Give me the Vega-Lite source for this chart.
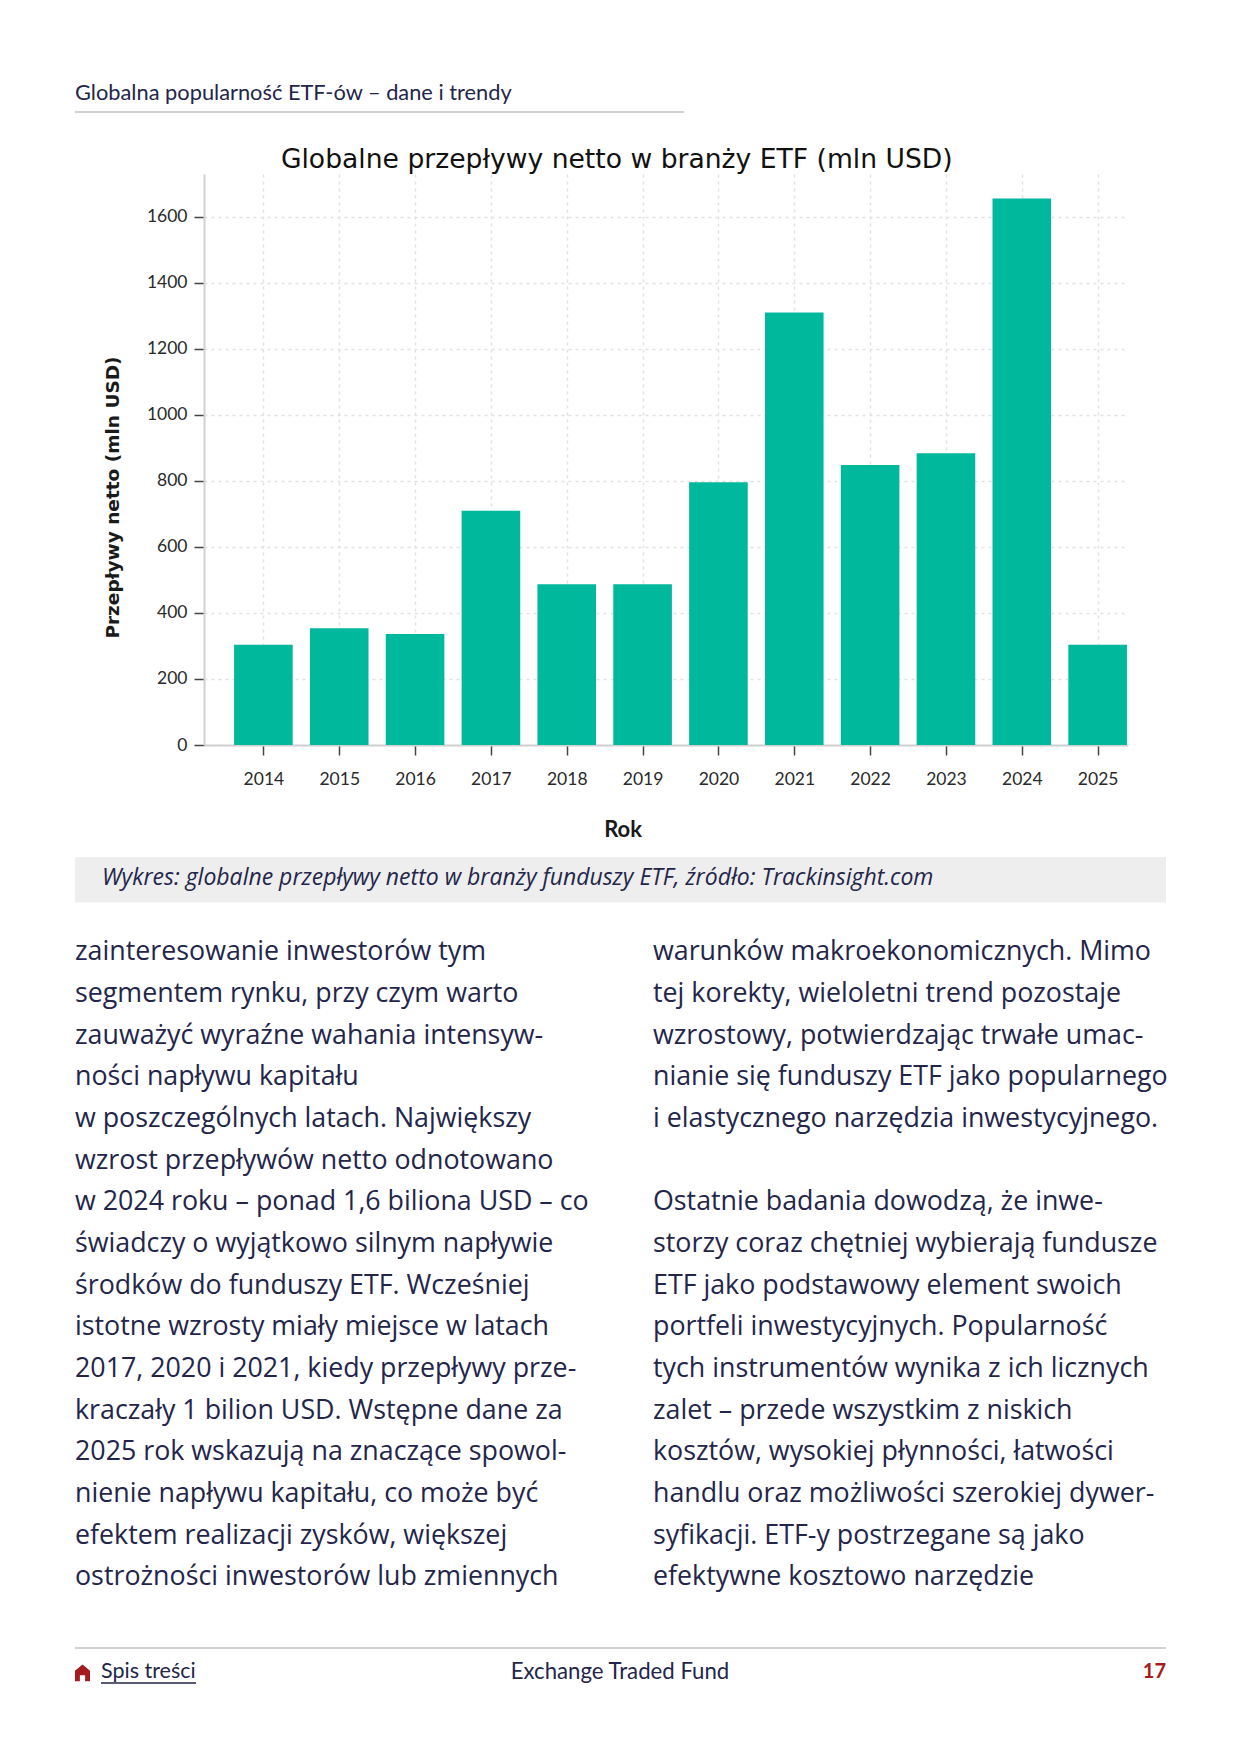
{
"$schema":"https://vega.github.io/schema/vega-lite/v6.json",
"padding":{"left":75,"top":70,"right":75,"bottom":59},
"background":"white",
"bounds":"flush",
"spacing":0,
"config":{"view":{"stroke":null},"concat":{"spacing":0}},
"vconcat":[
{"width":609,"height":41,"data":{"values":[{"slot":"a","text":"Globalna popularność ETF-ów – dane i trendy"}]},
 "mark":{"type":"text","align":"left","baseline":"middle","dy":2,"font":"Lato","fontSize":21.8,"color":"#23264a"},
 "encoding":{"x":{"field":"slot","type":"nominal","axis":null,"scale":{"type":"point","domain":["a"],"range":[0,0]}},"text":{"field":"text"}}},
{"width":609,"height":2,"view":{"fill":"#d2d2d2"},"data":{"values":[]},"mark":"text","encoding":{}},
{"width":10,"height":60.5,"data":{"values":[]},"mark":"text","encoding":{}},
{"bounds":"flush","spacing":0,"hconcat":[
 {"width":128.4,"height":571,"data":{"values":[]},"mark":"text","encoding":{}},
 {"width":923.6,"height":571,
  "title":{"text":"Globalne przepływy netto w branży ETF (mln USD)","font":"DejaVu Sans","fontSize":26.6,"fontWeight":"normal","color":"#111111","anchor":"middle","dx":-49,"offset":0},
  "data":{"values":[
   {"rok":2014,"v":304},{"rok":2015,"v":354},{"rok":2016,"v":336},{"rok":2017,"v":710},{"rok":2018,"v":487},{"rok":2019,"v":487},
   {"rok":2020,"v":796},{"rok":2021,"v":1310},{"rok":2022,"v":848},{"rok":2023,"v":884},{"rok":2024,"v":1656},{"rok":2025,"v":304}]},
  "mark":{"type":"bar","width":58.6,"color":"#00b89c"},
  "encoding":{
   "x":{"field":"rok","type":"quantitative","title":"Rok","scale":{"domain":[2013.217,2025.395],"nice":false,"zero":false,"padding":0},
    "axis":{"values":[2014,2015,2016,2017,2018,2019,2020,2021,2022,2023,2024,2025],"format":"d","labelFont":"Lato","labelFontSize":17.5,"labelColor":"#2a2a2a","labelPadding":15.5,"labelFlush":false,"labelOverlap":false,
     "tickSize":10,"tickColor":"#444444","tickWidth":1.5,"domainColor":"#d0d0d0","domainWidth":2,
     "grid":true,"gridColor":"#e2e2e2","gridDash":[3,4],"gridWidth":1.5,
     "titleFont":"Lato","titleFontSize":22,"titleFontWeight":"bold","titleColor":"#1a1a1a","titleX":418.6,"titleY":84.5,"titleBaseline":"middle","titleAnchor":"middle"}},
   "y":{"field":"v","type":"quantitative","title":"Przepływy netto (mln USD)","scale":{"domain":[0,1730],"nice":false},
    "axis":{"values":[0,200,400,600,800,1000,1200,1400,1600],"format":"d","labelFont":"Lato","labelFontSize":17.5,"labelColor":"#2a2a2a","labelPadding":7,"labelOverlap":false,"labelFlush":false,
     "tickSize":10,"tickColor":"#444444","tickWidth":1.5,"domainColor":"#d0d0d0","domainWidth":2,
     "grid":true,"gridColor":"#e2e2e2","gridDash":[3,4],"gridWidth":1.5,
     "titleFont":"DejaVu Sans","titleFontSize":18.5,"titleFontWeight":"bold","titleColor":"#1a1a1a","titleX":-92,"titleY":323,"titleBaseline":"middle","titleAnchor":"middle"}}
  }}
]},
{"width":10,"height":682.5,"data":{"values":[]},"mark":"text","encoding":{}},
{"width":1091,"height":45.5,"view":{"fill":"#eeeeee"},"data":{"values":[{"slot":"a","text":"Wykres: globalne przepływy netto w branży funduszy ETF, źródło: Trackinsight.com"}]},
 "mark":{"type":"text","align":"left","baseline":"middle","dy":-1.5,"font":"Open Sans","fontStyle":"italic","fontSize":23,"color":"#23264a"},
 "encoding":{"x":{"field":"slot","type":"nominal","axis":null,"scale":{"type":"point","domain":["a"],"range":[27,27]}},"text":{"field":"text"}}},
{"width":10,"height":29.5,"data":{"values":[]},"mark":"text","encoding":{}},
{"width":1091,"height":667,
 "data":{"values":[
  {"col":"l","line":1,"text":"zainteresowanie inwestorów tym"},
  {"col":"l","line":2,"text":"segmentem rynku, przy czym warto"},
  {"col":"l","line":3,"text":"zauważyć wyraźne wahania intensyw-"},
  {"col":"l","line":4,"text":"ności napływu kapitału"},
  {"col":"l","line":5,"text":"w poszczególnych latach. Największy"},
  {"col":"l","line":6,"text":"wzrost przepływów netto odnotowano"},
  {"col":"l","line":7,"text":"w 2024 roku – ponad 1,6 biliona USD – co"},
  {"col":"l","line":8,"text":"świadczy o wyjątkowo silnym napływie"},
  {"col":"l","line":9,"text":"środków do funduszy ETF. Wcześniej"},
  {"col":"l","line":10,"text":"istotne wzrosty miały miejsce w latach"},
  {"col":"l","line":11,"text":"2017, 2020 i 2021, kiedy przepływy prze-"},
  {"col":"l","line":12,"text":"kraczały 1 bilion USD. Wstępne dane za"},
  {"col":"l","line":13,"text":"2025 rok wskazują na znaczące spowol-"},
  {"col":"l","line":14,"text":"nienie napływu kapitału, co może być"},
  {"col":"l","line":15,"text":"efektem realizacji zysków, większej"},
  {"col":"l","line":16,"text":"ostrożności inwestorów lub zmiennych"},
  {"col":"r","line":1,"text":"warunków makroekonomicznych. Mimo"},
  {"col":"r","line":2,"text":"tej korekty, wieloletni trend pozostaje"},
  {"col":"r","line":3,"text":"wzrostowy, potwierdzając trwałe umac-"},
  {"col":"r","line":4,"text":"nianie się funduszy ETF jako popularnego"},
  {"col":"r","line":5,"text":"i elastycznego narzędzia inwestycyjnego."},
  {"col":"r","line":7,"text":"Ostatnie badania dowodzą, że inwe-"},
  {"col":"r","line":8,"text":"storzy coraz chętniej wybierają fundusze"},
  {"col":"r","line":9,"text":"ETF jako podstawowy element swoich"},
  {"col":"r","line":10,"text":"portfeli inwestycyjnych. Popularność"},
  {"col":"r","line":11,"text":"tych instrumentów wynika z ich licznych"},
  {"col":"r","line":12,"text":"zalet – przede wszystkim z niskich"},
  {"col":"r","line":13,"text":"kosztów, wysokiej płynności, łatwości"},
  {"col":"r","line":14,"text":"handlu oraz możliwości szerokiej dywer-"},
  {"col":"r","line":15,"text":"syfikacji. ETF-y postrzegane są jako"},
  {"col":"r","line":16,"text":"efektywne kosztowo narzędzie"}
 ]},
 "mark":{"type":"text","align":"left","baseline":"middle","dy":-1.7,"font":"Open Sans","fontSize":26.8,"color":"#23264a"},
 "encoding":{
  "x":{"field":"col","type":"nominal","axis":null,"scale":{"type":"point","domain":["l","r"],"range":[0,578],"padding":0}},
  "y":{"field":"line","type":"quantitative","axis":null,"scale":{"domain":[0.5,16.5],"reverse":true,"nice":false,"zero":false}},
  "text":{"field":"text"}}},
{"width":10,"height":47,"data":{"values":[]},"mark":"text","encoding":{}},
{"width":1091,"height":2,"view":{"fill":"#d2d2d2"},"data":{"values":[]},"mark":"text","encoding":{}},
{"width":1091,"height":48,
 "resolve":{"scale":{"x":"independent"}},
 "layer":[
  {"data":{"values":[{"slot":"icon"}]},
   "mark":{"type":"point","filled":true,"opacity":1,"color":"#a51c20","size":225,"shape":"M-1,-0.3 L0,-1.15 L1,-0.3 L1,1.1 L0.35,1.1 L0.35,0.3 L-0.35,0.3 L-0.35,1.1 L-1,1.1 Z"},
   "encoding":{"x":{"field":"slot","type":"nominal","axis":null,"scale":{"type":"point","domain":["icon"],"range":[7.5,7.5]}}}},
  {"data":{"values":[{"slot":"link","text":"Spis treści"}]},
   "mark":{"type":"text","align":"left","baseline":"middle","dy":-1,"font":"Lato","fontSize":21.5,"color":"#23264a"},
   "encoding":{"x":{"field":"slot","type":"nominal","axis":null,"scale":{"type":"point","domain":["link"],"range":[26,26]}},"text":{"field":"text"}}},
  {"data":{"values":[{"slot":"link","end":"linkend"}]},
   "mark":{"type":"rule","color":"#23264a","strokeWidth":1.5,"yOffset":10},
   "encoding":{"x":{"field":"slot","type":"nominal","axis":null,"scale":{"type":"point","domain":["link","linkend"],"range":[26,121],"padding":0}},"x2":{"field":"end"}}},
  {"data":{"values":[{"slot":"mid","text":"Exchange Traded Fund"}]},
   "mark":{"type":"text","align":"center","baseline":"middle","dy":-1,"font":"Lato","fontSize":22.2,"color":"#23264a"},
   "encoding":{"x":{"field":"slot","type":"nominal","axis":null,"scale":{"type":"point","domain":["mid"],"range":[545,545]}},"text":{"field":"text"}}},
  {"data":{"values":[{"slot":"page","text":"17"}]},
   "mark":{"type":"text","align":"right","baseline":"middle","dy":-1,"font":"Lato","fontSize":20,"fontWeight":"bold","color":"#a51c20"},
   "encoding":{"x":{"field":"slot","type":"nominal","axis":null,"scale":{"type":"point","domain":["page"],"range":[1091,1091]}},"text":{"field":"text"}}}
 ]
}
]}
